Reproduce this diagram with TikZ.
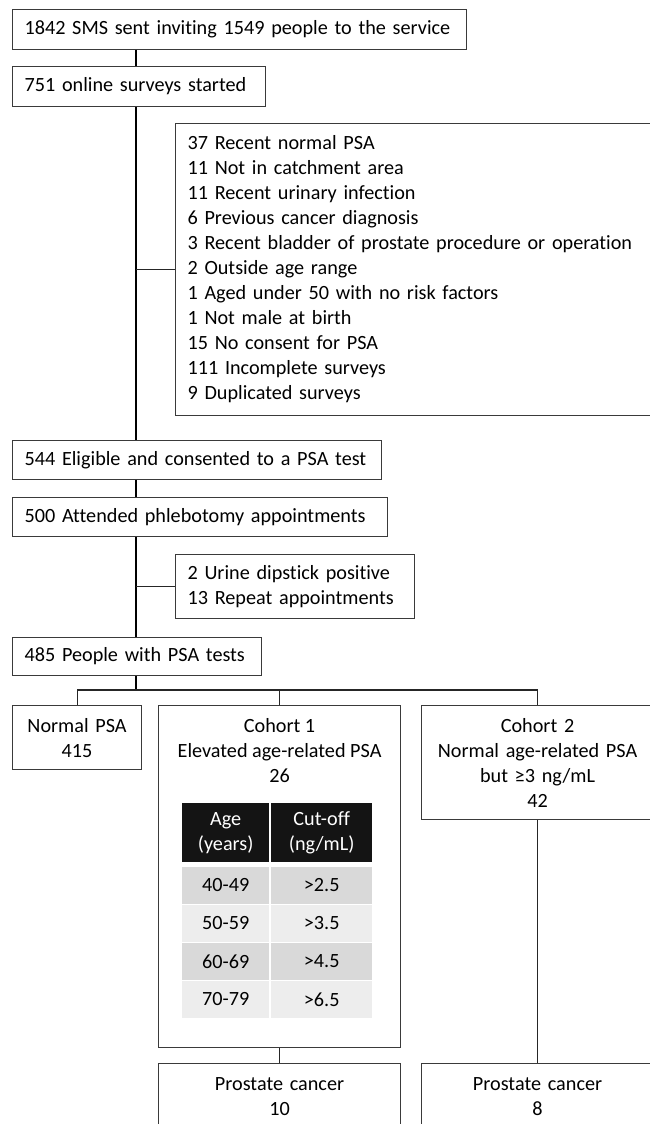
\documentclass[tikz,border=0pt]{standalone}
\usepackage{fontspec}
\setmainfont{Carlito}[Ligatures=NoCommon]
\usetikzlibrary{calc}
\definecolor{boxline}{HTML}{3A3A3A}
\definecolor{headfill}{HTML}{141414}
\definecolor{rowdark}{HTML}{D9D9D9}
\definecolor{rowlight}{HTML}{EDEDED}
\newcommand{\chartfont}{\fontsize{20.2}{25}\selectfont\hyphenpenalty=10000}

\begin{document}
\begin{tikzpicture}[x=1pt, y=-1pt]
            \tikzstyle{box} = [draw=boxline, line width=1.1pt, anchor=north west, font=\chartfont]
            \tikzstyle{lbox} = [box, align=left, inner xsep=12pt, inner ysep=0pt]
            \tikzstyle{cbox} = [box, align=center, inner sep=0pt]
            \tikzstyle{cell} = [anchor=north west, inner sep=0pt, align=center, font=\chartfont]
            \tikzstyle{link} = [draw=black!85, line width=1.1pt]
            \tikzstyle{trunkline} = [draw=black, line width=1.8pt]
            \useasboundingbox (0,0) rectangle (650,1124);

            % left column of steps
            \coordinate (trunk) at (136,0);
            \coordinate (bus) at (0,690);
            \node[lbox, text width=430, minimum height=40] (sms) at (12,9) {1842 SMS sent inviting 1549 people to the service};
            \node[lbox, text width=229, minimum height=40] (online) at (12,66) {751 online surveys started};
            \node[lbox, text width=454, minimum height=292] (excl) at (175,123) {37 Recent normal PSA\\11 Not in catchment area\\11 Recent urinary infection\\6 Previous cancer diagnosis\\3 Recent bladder of prostate procedure or operation\\2 Outside age range\\1 Aged under 50 with no risk factors\\1 Not male at birth\\15 No consent for PSA\\111 Incomplete surveys\\9 Duplicated surveys};
            \node[lbox, text width=345, minimum height=39] (elig) at (12,440) {544 Eligible and consented to a PSA test};
            \node[lbox, text width=351, minimum height=39] (attend) at (12,497) {500 Attended phlebotomy appointments};
            \node[lbox, text width=215, minimum height=64] (urine) at (175,554) {2 Urine dipstick positive\\13 Repeat appointments};
            \node[lbox, text width=225, minimum height=38] (tests) at (12,637) {485 People with PSA tests};

            % three groups
            \node[cbox, text width=129, minimum height=64] (normal) at (12,705) {Normal PSA\\415};
            \node[cbox, text width=242, minimum height=342] (coh1) at (158,705) {};
            \node[align=center, inner sep=0pt, font=\chartfont] (coh1head) at ($(coh1.north)+(0,46)$) {Cohort 1\\Elevated age-related PSA\\26};
            \node[cbox, text width=232, minimum height=114] (coh2) at (421,705) {Cohort 2\\Normal age-related PSA\\but ≥3 ng/mL\\42};
            \node[cbox, text width=242, minimum height=66] (pc1) at (158,1063) {Prostate cancer\\10};
            \node[cbox, text width=232, minimum height=66] (pc2) at (421,1063) {Prostate cancer\\8};

            % age cut-off table
            \node[cell, fill=headfill, text=white, text width=87, minimum height=59] (agehead) at (182,803) {Age\\(years)};
            \node[cell, fill=headfill, text=white, text width=101, minimum height=59] (cuthead) at (271,803) {Cut-off\\(ng/mL)};
            \foreach \a/\c/\shade [count=\i] in {40-49/>2.5/rowdark, 50-59/>3.5/rowlight, 60-69/>4.5/rowdark, 70-79/>6.5/rowlight} {
                \node[cell, fill=\shade, text width=87, minimum height=36.5] (age\i) at (182,{829+38*\i}) {\a};
                \node[cell, fill=\shade, text width=101, minimum height=36.5] (cut\i) at (271,{829+38*\i}) {\c};
            }

            \draw[trunkline] (sms.south -| trunk) -- (online.north -| trunk);
            \draw[trunkline] (online.south -| trunk) -- (elig.north -| trunk);
            \draw[link] (excl.west -| trunk) -- (excl.west);
            \draw[trunkline] (elig.south -| trunk) -- (attend.north -| trunk);
            \draw[trunkline] (attend.south -| trunk) -- (tests.north -| trunk);
            \draw[link] (urine.west -| trunk) -- (urine.west);
            \draw[trunkline] (tests.south -| trunk) -- (trunk |- bus);
            \draw[link] (normal.north) -- (normal.north |- bus) -| (coh2.north);
            \draw[link] (coh1.north) -- (coh1.north |- bus);
            \draw[link] (coh1.south) -- (pc1.north);
            \draw[link] (coh2.south) -- (pc2.north);
        \end{tikzpicture}
\end{document}
